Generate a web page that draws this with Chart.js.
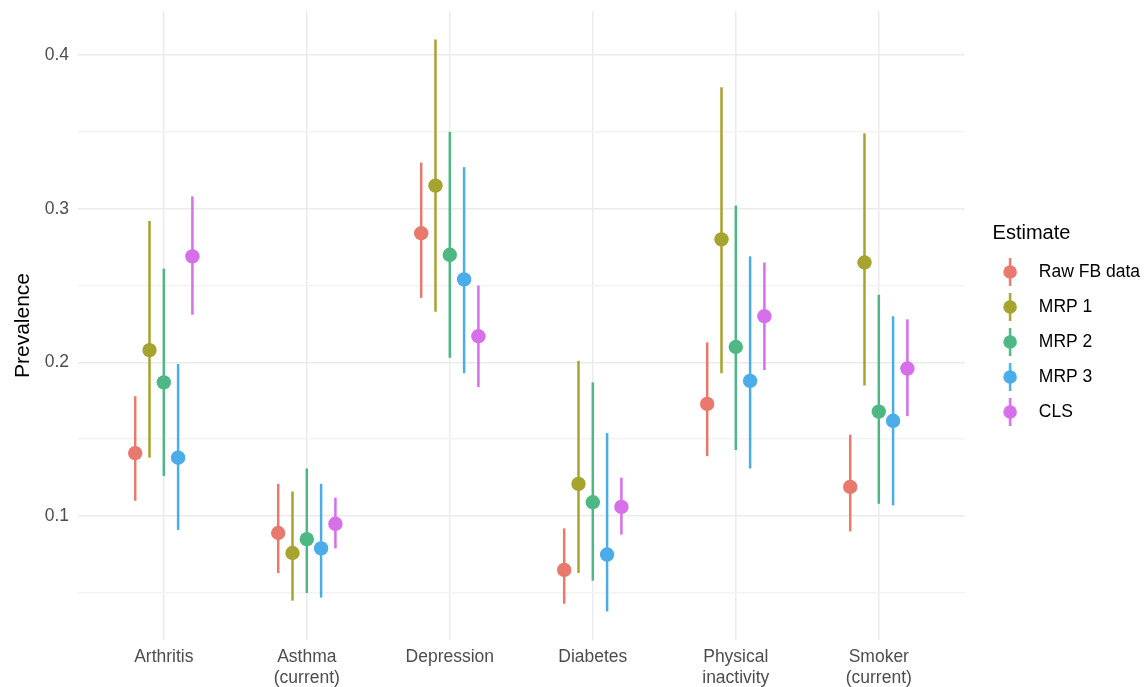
<!DOCTYPE html>
<html>
<head>
<meta charset="utf-8">
<script src="https://cdn.jsdelivr.net/npm/chart.js@4"></script>
<style>
  html, body { margin: 0; padding: 0; background: #fff; }
  #wrap { width: 1146px; height: 687px; }
</style>
</head>
<body>
<div id="wrap"><canvas id="prevChart"></canvas></div>
<script>
// Categories and series
const categories = [['Arthritis'], ['Asthma', '(current)'], ['Depression'], ['Diabetes'], ['Physical', 'inactivity'], ['Smoker', '(current)']];
const seriesNames = ['Raw FB data', 'MRP 1', 'MRP 2', 'MRP 3', 'CLS'];
const seriesColors = ['#E9786D', '#A6A32F', '#4DB883', '#4AADEA', '#D76EEA'];

// point estimates, one array per series (order follows categories)
const rawEst  = [0.141, 0.089, 0.284, 0.065, 0.173, 0.119];
const mrp1Est = [0.208, 0.076, 0.315, 0.121, 0.280, 0.265];
const mrp2Est = [0.187, 0.085, 0.270, 0.109, 0.210, 0.168];
const mrp3Est = [0.138, 0.079, 0.254, 0.075, 0.188, 0.162];
const clsEst  = [0.269, 0.095, 0.217, 0.106, 0.230, 0.196];

// lower bounds
const rawLo  = [0.110, 0.063, 0.242, 0.043, 0.139, 0.090];
const mrp1Lo = [0.138, 0.045, 0.233, 0.063, 0.193, 0.185];
const mrp2Lo = [0.126, 0.050, 0.203, 0.058, 0.143, 0.108];
const mrp3Lo = [0.091, 0.047, 0.193, 0.038, 0.131, 0.107];
const clsLo  = [0.231, 0.079, 0.184, 0.088, 0.195, 0.165];

// upper bounds
const rawHi  = [0.178, 0.121, 0.330, 0.092, 0.213, 0.153];
const mrp1Hi = [0.292, 0.116, 0.410, 0.201, 0.379, 0.349];
const mrp2Hi = [0.261, 0.131, 0.350, 0.187, 0.302, 0.244];
const mrp3Hi = [0.199, 0.121, 0.327, 0.154, 0.269, 0.230];
const clsHi  = [0.308, 0.112, 0.250, 0.125, 0.265, 0.228];

const yTicks = [0.05, 0.10, 0.15, 0.20, 0.25, 0.30, 0.35, 0.40];

const estimates = [rawEst, mrp1Est, mrp2Est, mrp3Est, clsEst];
const lowers = [rawLo, mrp1Lo, mrp2Lo, mrp3Lo, clsLo];
const uppers = [rawHi, mrp1Hi, mrp2Hi, mrp3Hi, clsHi];

// position_dodge: 0.1 category units between series
const dodge = 0.1;
const tickFont = { family: 'Liberation Sans', size: 17.5 };

// legend key: point with a short vertical line, drawn a bit left of the image centre
function legendSymbol(color) {
  const c = document.createElement('canvas');
  c.width = 40; c.height = 30;
  const g = c.getContext('2d');
  g.strokeStyle = color;
  g.lineWidth = 2.5;
  g.beginPath(); g.moveTo(10, 1); g.lineTo(10, 29); g.stroke();
  g.fillStyle = color;
  g.beginPath(); g.arc(10, 15, 6.8, 0, Math.PI * 2); g.fill();
  return c;
}

const datasets = seriesNames.map((name, s) => ({
  label: name,
  data: estimates[s].map((v, i) => ({
    x: i + 1 + (s - 2) * dodge,
    y: v,
    lo: lowers[s][i],
    hi: uppers[s][i]
  })),
  backgroundColor: seriesColors[s],
  borderColor: seriesColors[s],
  pointStyle: 'circle',
  pointRadius: 7.2,
  pointHoverRadius: 7.2,
  pointBorderWidth: 0
}));

// draws the vertical intervals under the points
const errorBars = {
  id: 'errorBars',
  beforeDatasetsDraw(chart) {
    const ctx = chart.ctx;
    const xs = chart.scales.x, ys = chart.scales.y;
    ctx.save();
    ctx.lineWidth = 2.5;
    chart.data.datasets.forEach(ds => {
      ctx.strokeStyle = ds.borderColor;
      ds.data.forEach(p => {
        const px = xs.getPixelForValue(p.x);
        ctx.beginPath();
        ctx.moveTo(px, ys.getPixelForValue(p.lo));
        ctx.lineTo(px, ys.getPixelForValue(p.hi));
        ctx.stroke();
      });
    });
    ctx.restore();
  }
};

// leave a gap between the panel and the legend like ggplot does,
// and centre the legend on the panel rather than the full height
const legendGap = {
  id: 'legendGap',
  afterLayout(chart) {
    const lg = chart.legend;
    lg.left = chart.chartArea.right + 28;
    lg.right = lg.left + lg.width;
    lg.top -= 24;
    lg.bottom -= 24;
  }
};

new Chart(document.getElementById('prevChart'), {
  type: 'scatter',
  data: { datasets: datasets },
  options: {
    responsive: true,
    maintainAspectRatio: false,
    animation: false,
    layout: { padding: { top: 11, right: 24, left: 0, bottom: 0 } },
    plugins: {
      tooltip: { enabled: false },
      legend: {
        position: 'right',
        title: {
          display: true,
          text: 'Estimate',
          color: '#000',
          font: { family: 'Liberation Sans', size: 20 },
          padding: { top: 12, bottom: -2 },
          position: 'start'
        },
        labels: {
          usePointStyle: true,
          pointStyleWidth: 20,
          generateLabels() {
            return seriesNames.map((n, s) => ({
              text: n,
              pointStyle: legendSymbol(seriesColors[s]),
              fillStyle: seriesColors[s],
              strokeStyle: seriesColors[s],
              lineWidth: 0,
              fontColor: '#000',
              datasetIndex: s
            }));
          },
          color: '#000',
          font: tickFont,
          padding: 17.5
        }
      }
    },
    scales: {
      x: {
        type: 'linear',
        min: 0.4,
        max: 6.6,
        afterBuildTicks(scale) {
          scale.ticks = categories.map((c, i) => ({ value: i + 1 }));
        },
        afterFit(scale) {
          scale.height = 47;
          scale.paddingLeft = 0;
          scale.paddingRight = 0;
        },
        ticks: {
          autoSkip: false,
          maxRotation: 0,
          color: '#4d4d4d',
          font: tickFont,
          padding: 7,
          callback: (v) => categories[Math.round(v) - 1]
        },
        grid: { color: '#ebebeb', lineWidth: 1.5, drawTicks: false },
        border: { display: false }
      },
      y: {
        min: 0.0194,
        max: 0.4286,
        afterBuildTicks(scale) {
          scale.ticks = yTicks.map(v => ({ value: v }));
        },
        afterFit(scale) {
          scale.width = 78;
          scale.paddingTop = 0;
          scale.paddingBottom = 0;
        },
        ticks: {
          color: '#4d4d4d',
          font: tickFont,
          padding: 9,
          callback: (v) => (Math.round(v * 100) % 10 === 0 ? v.toFixed(1) : '')
        },
        grid: {
          drawTicks: false,
          lineWidth: 1.5,
          color: (ctx) => (ctx.tick && Math.round(ctx.tick.value * 100) % 10 === 0 ? '#ebebeb' : '#f3f3f3')
        },
        border: { display: false },
        title: {
          display: true,
          text: 'Prevalence',
          color: '#000',
          font: { family: 'Liberation Sans', size: 21 },
          padding: { top: 11, bottom: 0 }
        }
      }
    }
  },
  plugins: [errorBars, legendGap]
});
</script>
</body>
</html>
